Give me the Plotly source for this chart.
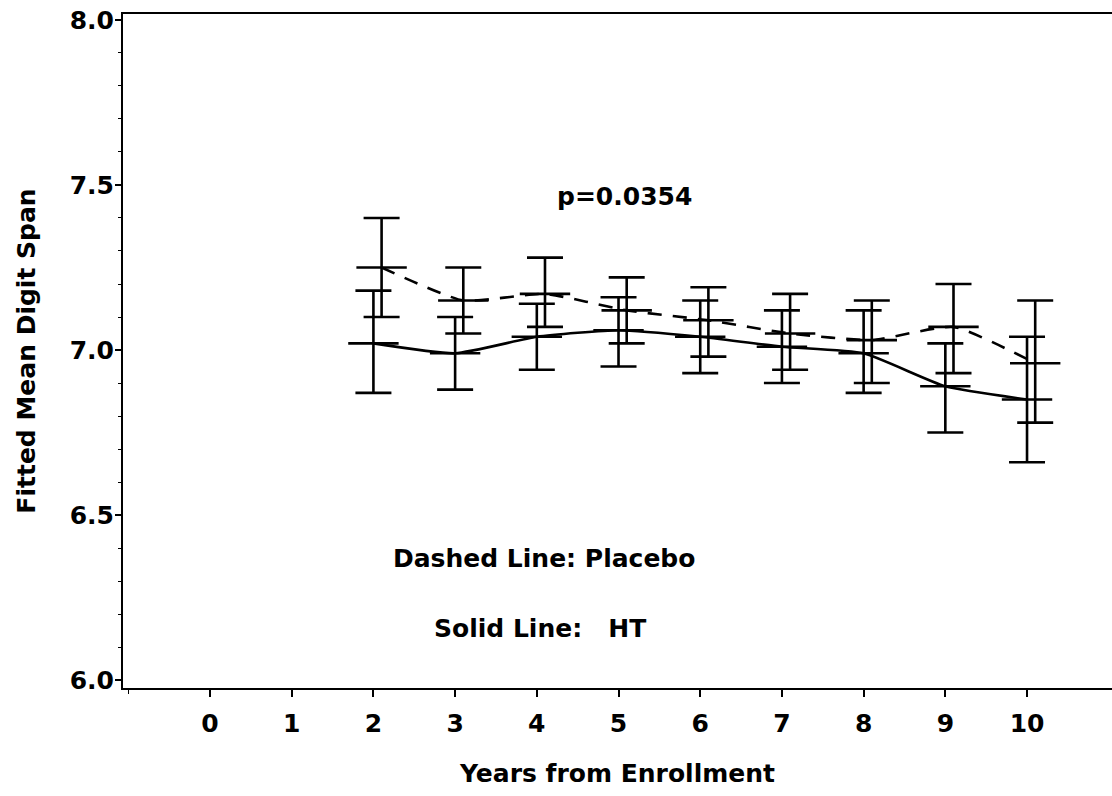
import plotly.graph_objects as go

# ---- data ----
years = [2, 3, 4, 5, 6, 7, 8, 9, 10]

ht_mean  = [7.02, 6.99, 7.04, 7.06, 7.04, 7.01, 6.99, 6.89, 6.85]
ht_lower = [6.87, 6.88, 6.94, 6.95, 6.93, 6.90, 6.87, 6.75, 6.66]
ht_upper = [7.18, 7.10, 7.14, 7.16, 7.15, 7.12, 7.12, 7.02, 7.04]

pl_mean  = [7.25, 7.15, 7.17, 7.12, 7.09, 7.05, 7.03, 7.07, 6.96]
pl_lower = [7.10, 7.05, 7.07, 7.02, 6.98, 6.94, 6.90, 6.93, 6.78]
pl_upper = [7.40, 7.25, 7.28, 7.22, 7.19, 7.17, 7.15, 7.20, 7.15]

x_tick_vals = [0, 1, 2, 3, 4, 5, 6, 7, 8, 9, 10]
y_tick_vals = [6.0, 6.5, 7.0, 7.5, 8.0]
y_tick_text = ["6.0", "6.5", "7.0", "7.5", "8.0"]

p_text = "p=0.0354"
legend_dashed = "Dashed Line: Placebo"
legend_solid = "Solid Line:\u00a0\u00a0\u00a0HT"

# ---- styling ----
FONT = "DejaVu Sans"
FS = 25
LW = 2.6
CAP_HALF = 18
PL_OFFSET = 0.1

pl_x = [y + PL_OFFSET for y in years]

def err(mean, lo, hi):
    return dict(type="data", symmetric=False,
                array=[h - m for m, h in zip(mean, hi)],
                arrayminus=[m - l for m, l in zip(mean, lo)],
                width=CAP_HALF, thickness=LW, color="black")

fig = go.Figure()

# HT: solid
fig.add_trace(go.Scatter(
    x=years, y=ht_mean, mode="lines",
    line=dict(color="black", width=LW, shape="spline", smoothing=0.5),
    hoverinfo="skip", showlegend=False))
fig.add_trace(go.Scatter(
    x=years, y=ht_mean, mode="markers",
    marker=dict(symbol="line-ew", size=2 * CAP_HALF,
                line=dict(color="black", width=LW)),
    error_y=err(ht_mean, ht_lower, ht_upper), showlegend=False))

# Placebo: dashed
fig.add_trace(go.Scatter(
    x=pl_x, y=pl_mean, mode="lines",
    line=dict(color="black", width=LW, dash="14px,11px", shape="spline", smoothing=0.5),
    hoverinfo="skip", showlegend=False))
fig.add_trace(go.Scatter(
    x=pl_x, y=pl_mean, mode="markers",
    marker=dict(symbol="line-ew", size=2 * CAP_HALF,
                line=dict(color="black", width=LW)),
    error_y=err(pl_mean, pl_lower, pl_upper), showlegend=False))

ann_font = dict(family=FONT, size=FS, color="black", weight="bold")
fig.add_annotation(x=5.07, y=7.466, xref="x", yref="y", text=p_text,
                   showarrow=False, font=ann_font, xanchor="center", yanchor="middle")
fig.add_annotation(x=4.09, y=6.367, xref="x", yref="y", text=legend_dashed,
                   showarrow=False, font=ann_font, xanchor="center", yanchor="middle")
fig.add_annotation(x=4.04, y=6.155, xref="x", yref="y", text=legend_solid,
                   showarrow=False, font=ann_font, xanchor="center", yanchor="middle")

fig.update_layout(
    width=1112, height=796,
    margin=dict(l=123, r=0, t=14, b=108, autoexpand=False),
    paper_bgcolor="white", plot_bgcolor="white",
    font=dict(family=FONT, size=FS, color="black", weight="bold"),
    showlegend=False,
)

axis_font = dict(family=FONT, size=FS, color="black", weight="bold")

fig.update_xaxes(
    range=[-1.065, 11.04], tickmode="array", tickvals=x_tick_vals,
    ticks="outside", ticklen=7, tickwidth=1.5, tickcolor="black",
    ticklabelstandoff=5,
    minor=dict(tickmode="array", tickvals=[-1], ticks="outside", ticklen=4,
               tickwidth=1.2, tickcolor="black"),
    showline=True, linecolor="black", linewidth=2, mirror=True,
    showgrid=False, zeroline=False, automargin=False,
    title=dict(text="Years from Enrollment", standoff=27, font=axis_font),
    tickfont=axis_font,
)
fig.update_yaxes(
    range=[5.976, 8.018], tickmode="array", tickvals=y_tick_vals, ticktext=y_tick_text,
    ticks="outside", ticklen=6, tickwidth=1.5, tickcolor="black",
    ticklabelstandoff=-4,
    minor=dict(dtick=0.1, tick0=6.0, ticks="outside", ticklen=3, tickwidth=1,
               tickcolor="black", showgrid=False),
    showline=True, linecolor="black", linewidth=2, mirror=False,
    showgrid=False, zeroline=False, automargin=False,
    title=dict(text="Fitted Mean Digit Span", standoff=27, font=axis_font),
    tickfont=axis_font,
)

fig.write_html("out.html")
